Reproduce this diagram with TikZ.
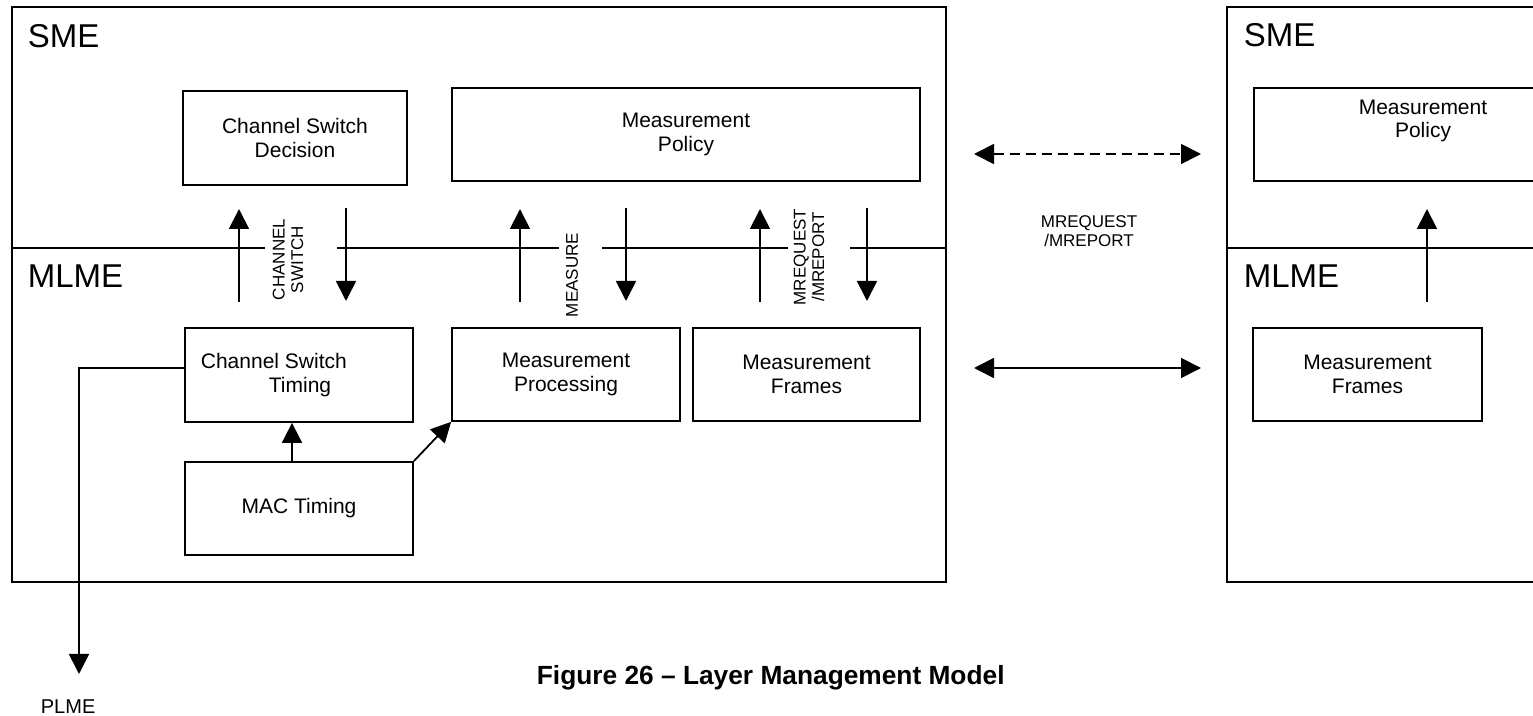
\documentclass[tikz,border=0pt]{standalone}
\usepackage{fontspec}
\setmainfont{Liberation Sans}
\usetikzlibrary{arrows.meta}

\begin{document}
\begin{tikzpicture}[x=0.5pt,y=-0.5pt,line width=0.9pt,
		box/.style={draw,inner sep=0pt,minimum width=114pt,minimum height=46.5pt,align=center,font=\fontsize{10.5}{11.7}\selectfont},
		lbl/.style={inner sep=0pt,align=center,font=\fontsize{8.5}{9.2}\selectfont},
		layer/.style={inner sep=0pt,anchor=base west,font=\fontsize{16.5}{18}\selectfont},
		arr/.style={-{Triangle[length=10pt,width=10pt]}},
		twoway/.style={{Triangle[length=10pt,width=10pt]}-{Triangle[length=10pt,width=10pt]}}]
				\useasboundingbox (0,0) rectangle (1533,716);
				
				% left station
				\draw (12,7) rectangle (946,582);
				\draw (12,248) -- (265,248);
				\draw (337,248) -- (559,248);
				\draw (602,248) -- (788,248);
				\draw (850,248) -- (946,248);
				\node[layer] (sme) at (27,48) {SME};
				\node[layer] (mlme) at (27,288) {MLME};
				
				\node[box,minimum width=112pt,minimum height=47pt] (csd) at (295,138) {Channel Switch\\Decision};
				\node[box,minimum width=234pt] (mpol) at (686,134.5) {Measurement\\Policy};
				
				\node[box,minimum height=47pt] (cst) at (299,375) {};
				\node[inner sep=0pt,anchor=west,align=left,font=\fontsize{10.5}{11.7}\selectfont] (csttext) at (200,375) {Channel Switch\\\hspace*{34pt}Timing};
				\node[box] (mac) at (299,508.5) {MAC Timing};
				\node[box] (mproc) at (566,374.5) {Measurement\\Processing};
				\node[box,minimum width=113.5pt] (mfr) at (806.5,374.5) {Measurement\\Frames};
				
				\node[lbl,rotate=90] (lcs) at (288,259.5) {CHANNEL\\SWITCH};
				\node[lbl,rotate=90] (lmeas) at (572,275) {MEASURE};
				\node[lbl,rotate=90] (lmreq) at (809,257) {MREQUEST\\/MREPORT};
				
				\coordinate (csa) at (239,302);  \coordinate (csb) at (239,209);
				\coordinate (csc) at (346,208);  \coordinate (csd2) at (346,301);
				\coordinate (msa) at (520,302);  \coordinate (msb) at (520,209);
				\coordinate (msc) at (626,208);  \coordinate (msd) at (626,301);
				\coordinate (mra) at (760,302);  \coordinate (mrb) at (760,209);
				\coordinate (mrc) at (867,208);  \coordinate (mrd) at (867,301);
				
				\draw[arr] (csa) -- (csb);
				\draw[arr] (csc) -- (csd2);
				\draw[arr] (msa) -- (msb);
				\draw[arr] (msc) -- (msd);
				\draw[arr] (mra) -- (mrb);
				\draw[arr] (mrc) -- (mrd);
				
				\draw[arr] ([xshift=-3.5pt]mac.north) -- ([xshift=-3.5pt]cst.south);
				\draw[arr] (mac.north east) -- (mproc.south west);
				
				\node[inner sep=0pt,anchor=base west,font=\fontsize{10}{12}\selectfont] (plme) at (40,713) {PLME};
				\coordinate (plmetip) at (79,674);
				\draw[arr] ([yshift=3.5pt]cst.west) -| (plmetip);
				
				% between the stations
				\coordinate (pa) at (974,154);  \coordinate (pb) at (1201,154);
				\coordinate (fa) at (974,368);  \coordinate (fb) at (1201,368);
				\draw[twoway,dash pattern=on 5pt off 3pt] (pa) -- (pb);
				\draw[twoway] (fa) -- (fb);
				\node[lbl] (lpeer) at (1089,231) {MREQUEST\\/MREPORT};
				
				% right station
				\draw (1533,7) -- (1227,7) -- (1227,582) -- (1533,582);
				\draw (1227,248) -- (1533,248);
				\node[layer] (rsme) at (1243,47) {SME};
				\node[layer] (rmlme) at (1243,288) {MLME};
				\draw (1533,88) -- (1254,88) -- (1254,181) -- (1533,181);
				\node[inner sep=0pt,align=center,font=\fontsize{10.5}{11.7}\selectfont] (rpol) at (1423,121) {Measurement\\Policy};
				\node[box,minimum width=114.5pt] (rmfr) at (1367.5,374.5) {Measurement\\Frames};
				\coordinate (ra) at (1427,302);  \coordinate (rb) at (1427,209);
				\draw[arr] (ra) -- (rb);
				
				\node[inner sep=0pt,anchor=base west,font=\fontsize{13.15}{15}\selectfont\bfseries] (cap) at (536,685) {Figure 26 – Layer Management Model};
			\end{tikzpicture}
\end{document}
